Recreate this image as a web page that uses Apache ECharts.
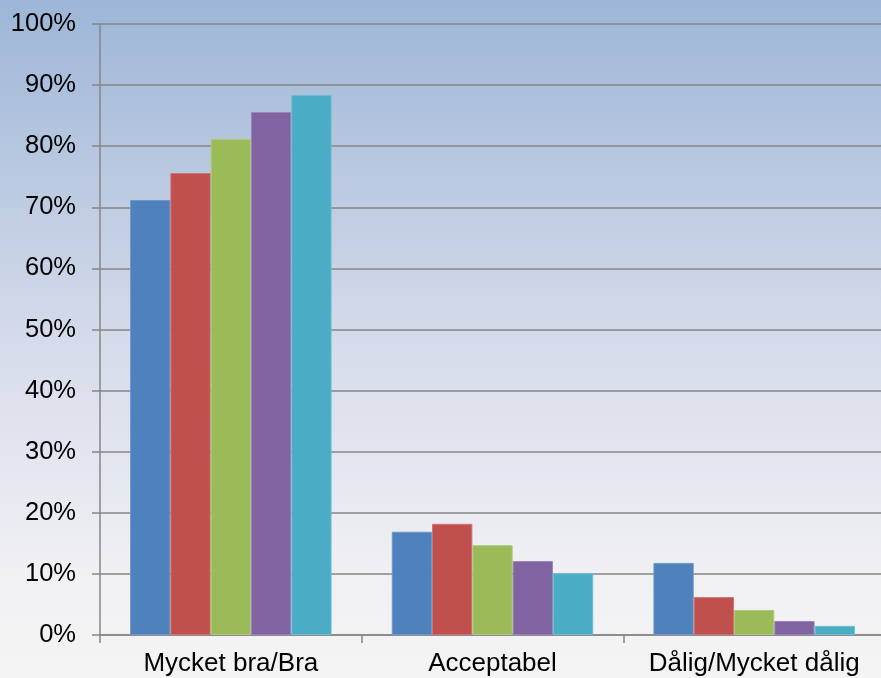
<!DOCTYPE html>
<html><head><meta charset="utf-8">
<script src="https://cdn.jsdelivr.net/npm/echarts@6/dist/echarts.min.js"></script>
<style>html,body{margin:0;padding:0;overflow:hidden;width:881px;height:678px;}#c{width:885px;height:678px;}</style>
</head><body><div id="c"></div>
<script>
const categories = ['Mycket bra/Bra', 'Acceptabel', 'Dålig/Mycket dålig'];
const s1 = [71.2, 16.9, 11.8];
const s2 = [75.6, 18.2, 6.2];
const s3 = [81.2, 14.7, 4.1];
const s4 = [85.6, 12.1, 2.3];
const s5 = [88.4, 10.1, 1.5];
const colors = ['#4f81bd', '#c0504d', '#9bbb59', '#8064a2', '#4bacc6'];
const borders = ['#6f97c9', '#cc7371', '#afc97d', '#9a84b6', '#6fbdd2'];
const seriesData = [s1, s2, s3, s4, s5];

const chart = echarts.init(document.getElementById('c'));
chart.setOption({
  animation: false,
  backgroundColor: {
    type: 'linear', x: 0, y: 0, x2: 0, y2: 1,
    colorStops: [
      {offset: 0, color: '#9db6d7'},
      {offset: 0.5, color: '#d5dbea'},
      {offset: 0.85, color: '#f1f1f4'},
      {offset: 1, color: '#f4f4f4'}
    ]
  },
  grid: {left: 100, right: 0, top: 24, bottom: 43},
  xAxis: {
    type: 'category',
    data: categories,
    axisLine: {lineStyle: {color: '#868686', width: 1.5}},
    axisTick: {show: true, interval: 0, length: 8, lineStyle: {color: '#868686', width: 1.5}},
    axisLabel: {interval: 0, hideOverlap: false, color: '#000', fontFamily: 'Liberation Sans', fontSize: 26, margin: 16}
  },
  yAxis: {
    type: 'value', min: 0, max: 100, interval: 10,
    axisLine: {show: true, lineStyle: {color: '#868686', width: 1.5}},
    axisTick: {show: true, length: 8, lineStyle: {color: '#868686', width: 1.5}},
    axisLabel: {color: '#000', fontFamily: 'Liberation Sans', fontSize: 25.5, margin: 24, formatter: '{value}%'},
    splitLine: {show: true, lineStyle: {color: '#868686', width: 1.5}}
  },
  series: seriesData.map((d, i) => ({
    type: 'bar',
    data: d,
    barGap: '0%',
    barCategoryGap: '23%',
    itemStyle: {color: colors[i], borderColor: borders[i], borderWidth: 1}
  }))
});
</script></body></html>
